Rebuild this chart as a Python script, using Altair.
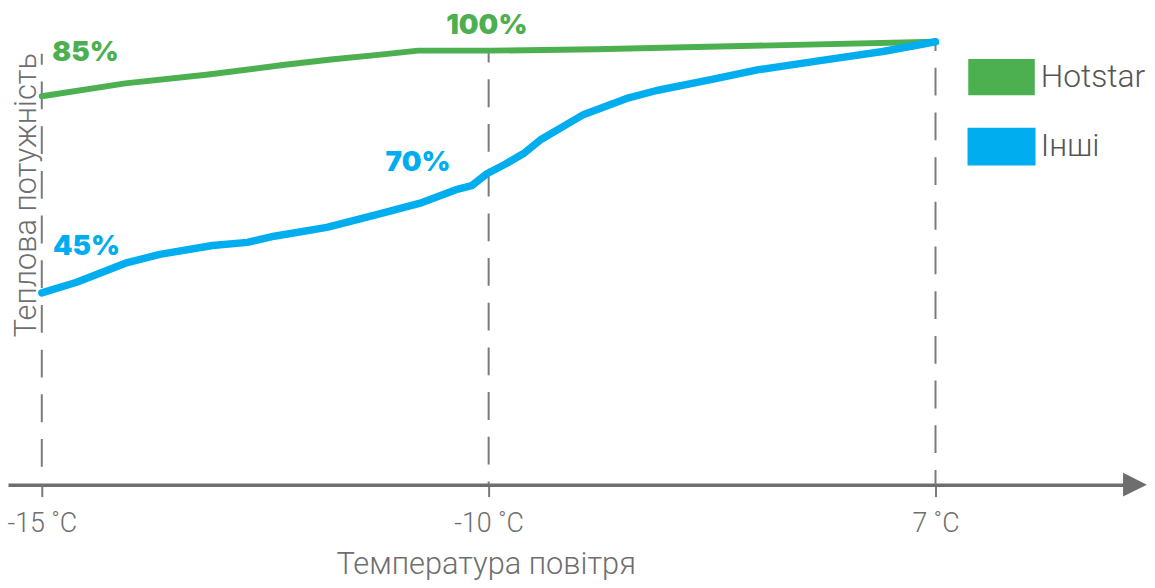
import altair as alt
import pandas as pd

# ---- data ----
x_ticks = [0, 1, 2]
x_tick_labels = ["-15 ˚C", "-10 ˚C", "7 ˚C"]

series_names = ["Hotstar", "Інші"]
series_colors = ["#4CAF50", "#00AEEF"]

hot_pos = [0.0, 0.187, 0.373, 0.544, 0.647, 0.758, 0.842, 1.002, 1.24, 2.0]
hot_val = [87.7, 90.6, 92.6, 94.8, 96.0, 97.1, 98.0, 98.0, 98.3, 100.0]

oth_pos = [0.0, 0.078, 0.187, 0.264, 0.382, 0.46, 0.52, 0.638, 0.758, 0.851,
           0.927, 0.962, 0.996, 1.038, 1.08, 1.118, 1.213, 1.309, 1.376, 1.5,
           1.604, 1.738, 1.882, 2.0]
oth_val = [43.3, 45.7, 50.0, 52.0, 54.0, 54.7, 56.1, 58.1, 61.2, 63.7,
           66.6, 67.5, 70.2, 72.4, 74.9, 78.0, 83.6, 87.2, 89.0, 91.5,
           93.7, 95.7, 97.8, 100.0]

label_text = ["85%", "100%", "70%", "45%"]
label_series = ["Hotstar", "Hotstar", "Інші", "Інші"]
label_pos = [0.098, 0.996, 0.842, 0.10]
label_val = [97.5, 103.6, 72.6, 53.6]

guide_pos = [0, 1, 2]
guide_top = [97.3, 97.8, 100.4]

x_title = "Температура повітря"
y_title = "Теплова потужність"

# ---- tables ----
lines_df = pd.DataFrame({
    "series": [series_names[0]] * len(hot_pos) + [series_names[1]] * len(oth_pos),
    "pos": hot_pos + oth_pos,
    "val": hot_val + oth_val,
})
labels_df = pd.DataFrame({"text": label_text, "series": label_series,
                          "pos": label_pos, "val": label_val})
guides_df = pd.DataFrame({"pos": guide_pos, "val": guide_top})

X_DOMAIN = [-0.0756, 2.4244]
Y_DOMAIN = [0, 107.17]
arrow_df = pd.DataFrame({"pos": [X_DOMAIN[1] + 0.022], "val": [0]})

FONT = "Roboto"
GRAY = "#6e6e6e"
RECT = "M-1,-0.5L1,-0.5L1,0.5L-1,0.5Z"
TRI = "M-1,-1L1,0L-1,1Z"

xs = alt.Scale(domain=X_DOMAIN, nice=False, zero=False)
ys = alt.Scale(domain=Y_DOMAIN, nice=False, zero=False)
cs = alt.Scale(domain=series_names, range=series_colors)

x_axis = alt.Axis(
    values=x_ticks,
    labelExpr="['" + "','".join(x_tick_labels) + "'][datum.value]",
    grid=False, tickSize=12, tickWidth=2, tickColor="#7a7a7a",
    domainColor=GRAY, domainWidth=3.5,
    labelFont=FONT, labelFontWeight=300, labelFontSize=27, labelColor=GRAY,
    labelBaseline="alphabetic", labelPadding=35, labelFlush=False,
    title=x_title, titleFont=FONT, titleFontWeight=300, titleFontSize=31,
    titleColor=GRAY, titleX=481, titleY=89, titleBaseline="alphabetic",
    titleAlign="center",
)
y_axis = alt.Axis(
    labels=False, ticks=False, domain=False, grid=False,
    title=y_title, titleFont=FONT, titleFontWeight=300, titleFontSize=31,
    titleColor=GRAY, titleX=28, titleY=186, titleAngle=270,
    titleAlign="center", titleBaseline="alphabetic",
)

X = alt.X("pos:Q", scale=xs, axis=x_axis, title=x_title)
Y = alt.Y("val:Q", scale=ys, axis=y_axis, title=y_title)
C = alt.Color("series:N", scale=cs, legend=None)

legend_layer = alt.Chart(lines_df).mark_point(
    shape=RECT, filled=True, opacity=1
).encode(
    fill=alt.Fill("series:N", scale=alt.Scale(domain=series_names, range=series_colors),
                  legend=alt.Legend(
                      orient="none", legendX=966, legendY=34, title=None,
                      symbolType=RECT, symbolSize=3721, symbolStrokeWidth=0,
                      symbolOpacity=1,
                      labelFont=FONT, labelFontWeight=300, labelFontSize=32,
                      labelColor="#555555", labelOffset=5, rowPadding=8,
                      labelLimit=300,
                  )),
).transform_filter("datum.val < -1000")

lines = alt.Chart(lines_df).mark_line(strokeCap="round", strokeJoin="round").encode(
    x=X, y=Y, color=C,
    strokeWidth=alt.StrokeWidth("series:N",
                                scale=alt.Scale(domain=series_names, range=[6, 7.5]),
                                legend=None),
)

guides = alt.Chart(guides_df).mark_rule(
    color="#7a7a7a", strokeWidth=2, strokeDash=[28, 17], strokeDashOffset=17
).encode(x=X, y=Y, y2=alt.datum(0))

labels = alt.Chart(labels_df).mark_text(
    font="Inter", fontWeight=900, fontSize=28, align="center", baseline="middle"
).encode(x=X, y=Y, text="text:N", color=C)

arrow = alt.Chart(arrow_df).mark_point(
    shape=TRI, size=576, filled=True, color=GRAY, opacity=1, strokeWidth=0
).encode(x=X, y=Y)

chart = alt.layer(legend_layer, guides, lines, labels, arrow).properties(
    width=1125, height=478,
    autosize=alt.AutoSizeParams(type="none"),
    padding={"left": 0, "top": 0, "right": 22, "bottom": 100},
    background="white",
).configure_view(stroke=None)

chart.save("out.html", embed_options={"renderer": "svg", "actions": False})
